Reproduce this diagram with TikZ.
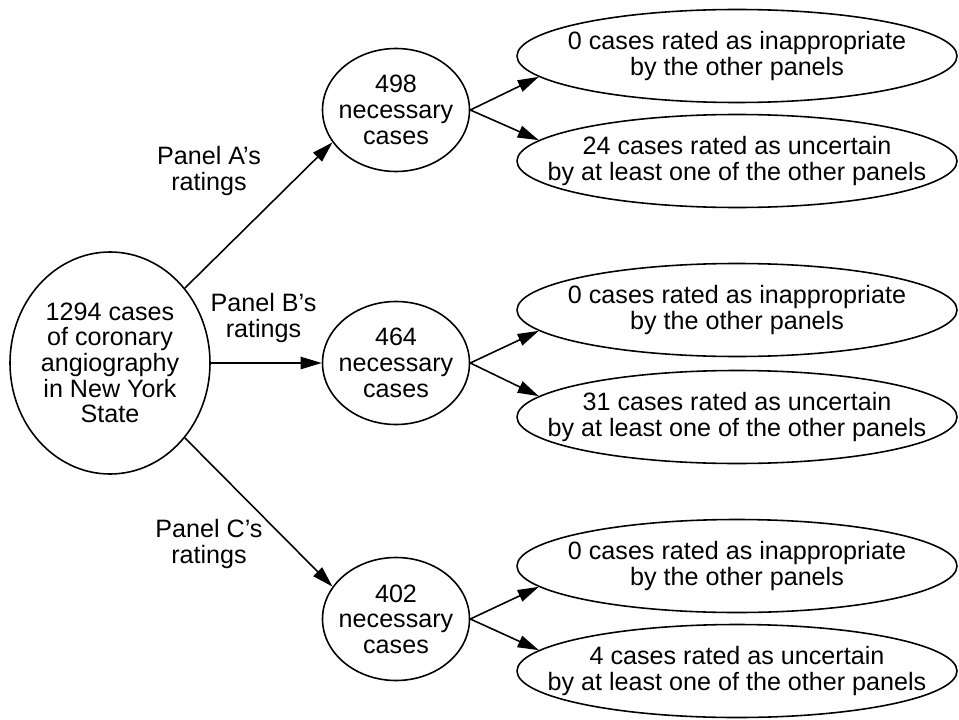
\documentclass[tikz,border=0pt]{standalone}
\usepackage{fontspec}
\setmainfont{Liberation Sans}
\usetikzlibrary{shapes.geometric,arrows.meta}

\tikzset{
  bubble/.style={draw, ellipse, inner sep=0pt},
  hub/.style={bubble, minimum width=4cm, minimum height=4.44cm},
  panel/.style={bubble, minimum width=2.94cm, minimum height=2.46cm},
  outcome/.style={bubble, minimum width=8.8cm, minimum height=1.86cm},
  txt/.style={align=center, inner sep=0pt, font=\fontsize{14.3}{14.6}\selectfont},
}

\begin{document}
\begin{tikzpicture}[>={Triangle[length=12pt,width=7pt]}, line width=0.9pt]
\useasboundingbox (0,0) rectangle (19.18,-14.38);

% all cases
\node[hub] (cases) at (2.2,-7.26) {};
\node[txt] (tcases) at (cases) {1294 cases\\of coronary\\angiography\\in New York\\State};

% necessary cases per panel
\node[panel] (A) at (7.92,-2.2) {};
\node[txt] (tA) at (A) {498\\necessary\\cases};
\node[panel] (B) at (7.92,-7.26) {};
\node[txt] (tB) at (B) {464\\necessary\\cases};
\node[panel] (C) at (7.92,-12.38) {};
\node[txt] (tC) at (C) {402\\necessary\\cases};

% ratings by the other panels
\node[outcome] (A1) at (14.74,-1.12) {};
\node[txt] (tA1) at (A1) {0 cases rated as inappropriate\\by the other panels};
\node[outcome] (A2) at (14.74,-3.22) {};
\node[txt] (tA2) at (A2) {24 cases rated as uncertain\\by at least one of the other panels};
\node[outcome] (B1) at (14.74,-6.2) {};
\node[txt] (tB1) at (B1) {0 cases rated as inappropriate\\by the other panels};
\node[outcome] (B2) at (14.74,-8.34) {};
\node[txt] (tB2) at (B2) {31 cases rated as uncertain\\by at least one of the other panels};
\node[outcome] (C1) at (14.74,-11.32) {};
\node[txt] (tC1) at (C1) {0 cases rated as inappropriate\\by the other panels};
\node[outcome] (C2) at (14.74,-13.42) {};
\node[txt] (tC2) at (C2) {4 cases rated as uncertain\\by at least one of the other panels};

\draw[->] (cases.45) -- (A.207);
\draw[->] (cases.east) -- (B.west);
\draw[->] (cases.-45) -- (C.153);
\foreach \p in {A,B,C} {
  \draw[->] (\p.east) -- (\p1.186);
  \draw[->] (\p.east) -- (\p2.174);
}

\node[txt] (labA) at (4.18,-3.42) {Panel A’s\\ratings};
\node[txt] (labB) at (5.27,-6.36) {Panel B’s\\ratings};
\node[txt] (labC) at (4.18,-10.88) {Panel C’s\\ratings};
\end{tikzpicture}
\end{document}
